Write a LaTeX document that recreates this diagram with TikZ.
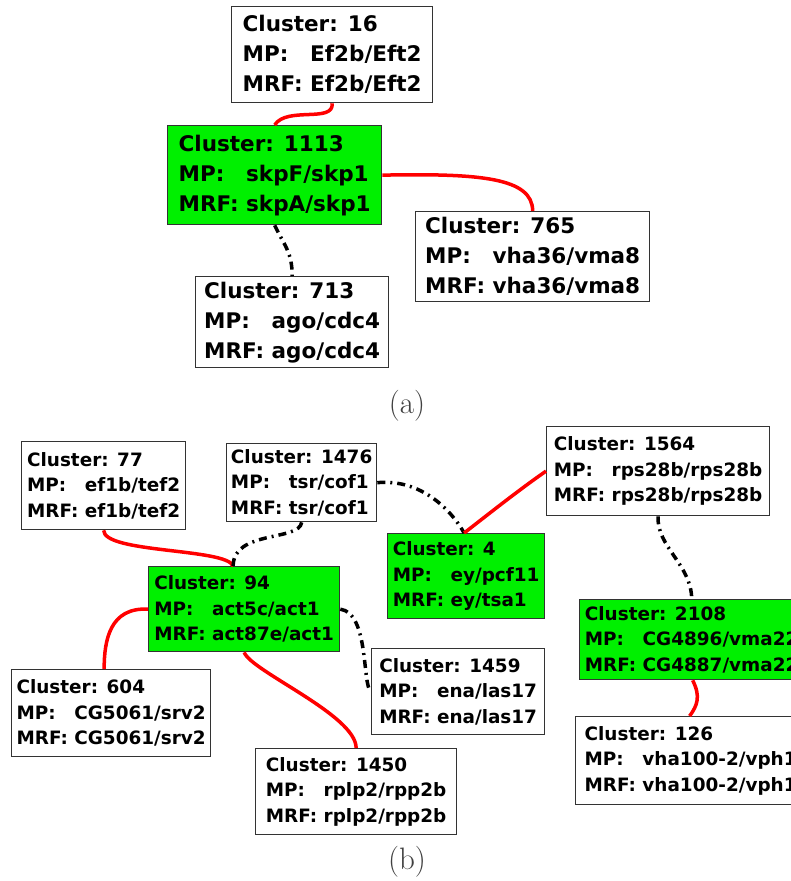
\documentclass[tikz,border=0pt]{standalone}
\usepackage{fontspec}
\newfontfamily\dvb{DejaVu Sans}
\definecolor{hubgreen}{RGB}{0,240,0}
\newcommand\kv[2]{\setbox0\hbox{MRF:\ }\makebox[\wd0][l]{#1}#2}
\tikzset{
  cbox/.style={draw=black!80, line width=1.3pt, rectangle, anchor=north west,
    inner sep=0pt, align=left, font=\dvb\bfseries\fontsize{21.5}{30}\selectfont},
  sbox/.style={cbox, font=\dvb\bfseries\fontsize{18.4}{25.5}\selectfont},
  hub/.style={fill=hubgreen},
  redlink/.style={draw=red, line width=3.5pt},
  ddlink/.style={draw=black, line width=3.5pt, dash pattern=on 8pt off 5pt on 2pt off 5pt},
  sublabel/.style={font=\fontsize{31}{36}\selectfont, text=black!75, inner sep=0pt}
}
\begin{document}
\begin{tikzpicture}[x=1pt,y=-1pt]
\path[use as bounding box, clip] (0,0) rectangle (791,881);
\fill[white] (0,0) rectangle (791,881);
% ---------- (a)
\node[cbox, minimum width=201pt, minimum height=96pt] (n16) at (231,6)
  {Cluster: 16\\\kv{MP:}{Ef2b/Eft2}\\\kv{MRF:}{Ef2b/Eft2}};
\node[cbox, hub, minimum width=214pt, minimum height=99pt] (n1113) at (167,125)
  {Cluster: 1113\\\kv{MP:}{skpF/skp1}\\\kv{MRF:}{skpA/skp1}};
\node[cbox, minimum width=234pt, minimum height=90pt] (n765) at (415,211)
  {Cluster: 765\\\kv{MP:}{vha36/vma8}\\\kv{MRF:}{vha36/vma8}};
\node[cbox, minimum width=193pt, minimum height=91pt] (n713) at (195,276)
  {Cluster: 713\\\kv{MP:}{ago/cdc4}\\\kv{MRF:}{ago/cdc4}};
\draw[redlink] (n16.south) .. controls +(2,20) and +(12,-19) .. (n1113.north);
\draw[redlink] (n1113.east) .. controls +(99,-2) and +(0,-33) .. (n765.north);
\draw[ddlink] (n1113.south) .. controls +(10,21) and +(0,-24) .. (n713.north);
\node[sublabel] (la) at (407,406) {(a)};
% ---------- (b)
\node[sbox, minimum width=164pt, minimum height=88pt] (n77) at (21,441)
  {Cluster: 77\\\kv{MP:}{ef1b/tef2}\\\kv{MRF:}{ef1b/tef2}};
\node[sbox, minimum width=150pt, minimum height=78pt] (n1476) at (226,443)
  {Cluster: 1476\\\kv{MP:}{tsr/cof1}\\\kv{MRF:}{tsr/cof1}};
\node[sbox, hub, minimum width=191pt, minimum height=85pt] (n94) at (148,566)
  {Cluster: 94\\\kv{MP:}{act5c/act1}\\\kv{MRF:}{act87e/act1}};
\node[sbox, minimum width=199pt, minimum height=87pt] (n604) at (11,669)
  {Cluster: 604\\\kv{MP:}{CG5061/srv2}\\\kv{MRF:}{CG5061/srv2}};
\node[sbox, minimum width=201pt, minimum height=86pt] (n1450) at (255,748)
  {Cluster: 1450\\\kv{MP:}{rplp2/rpp2b}\\\kv{MRF:}{rplp2/rpp2b}};
\node[sbox, minimum width=223pt, minimum height=89pt] (n1564) at (546,426)
  {Cluster: 1564\\\kv{MP:}{rps28b/rps28b}\\\kv{MRF:}{rps28b/rps28b}};
\node[sbox, hub, minimum width=157pt, minimum height=85pt] (n4) at (387,533)
  {Cluster: 4\\\kv{MP:}{ey/pcf11}\\\kv{MRF:}{ey/tsa1}};
\node[sbox, minimum width=173pt, minimum height=86pt] (n1459) at (371,648)
  {Cluster: 1459\\\kv{MP:}{ena/las17}\\\kv{MRF:}{ena/las17}};
\node[sbox, hub, minimum width=224pt, minimum height=80pt] (n2108) at (579,599)
  {Cluster: 2108\\\kv{MP:}{CG4896/vma22}\\\kv{MRF:}{CG4887/vma22}};
\node[sbox, minimum width=230pt, minimum height=88pt] (n126) at (575,716)
  {Cluster: 126\\\kv{MP:}{vha100-2/vph1}\\\kv{MRF:}{vha100-2/vph1}};
\draw[redlink] (n77.south) .. controls +(0,23) and +(-7,-18) .. ([xshift=-11pt]n94.north);
\draw[ddlink] (n1476.south) .. controls +(-2,19) and +(0,-36) .. ([xshift=-11pt]n94.north);
\draw[redlink] (n94.west) .. controls +(-38,-2) and +(0,-29) .. ([xshift=-7pt]n604.north);
\draw[redlink] (n94.south) .. controls +(7,19) and +(0,-33) .. (n1450.north);
\draw[ddlink] (n94.east) .. controls +(29,4) and +(-9,-6) .. (n1459.west);
\draw[ddlink] (n1476.east) .. controls +(44,-4) and +(-13,-23) .. ([xshift=-2pt]n4.north);
\draw[redlink] (n1564.west) .. controls +(-26,18) and +(27,-21) .. ([xshift=-2pt]n4.north);
\draw[ddlink] (n1564.south) .. controls +(-2,30) and +(0,-34) .. (n2108.north);
\draw[redlink] ([xshift=1pt]n2108.south) .. controls +(8,16) and +(8,-11) .. ([xshift=-1pt]n126.north);
\node[sublabel] (lb) at (407,862) {(b)};
\end{tikzpicture}
\end{document}
